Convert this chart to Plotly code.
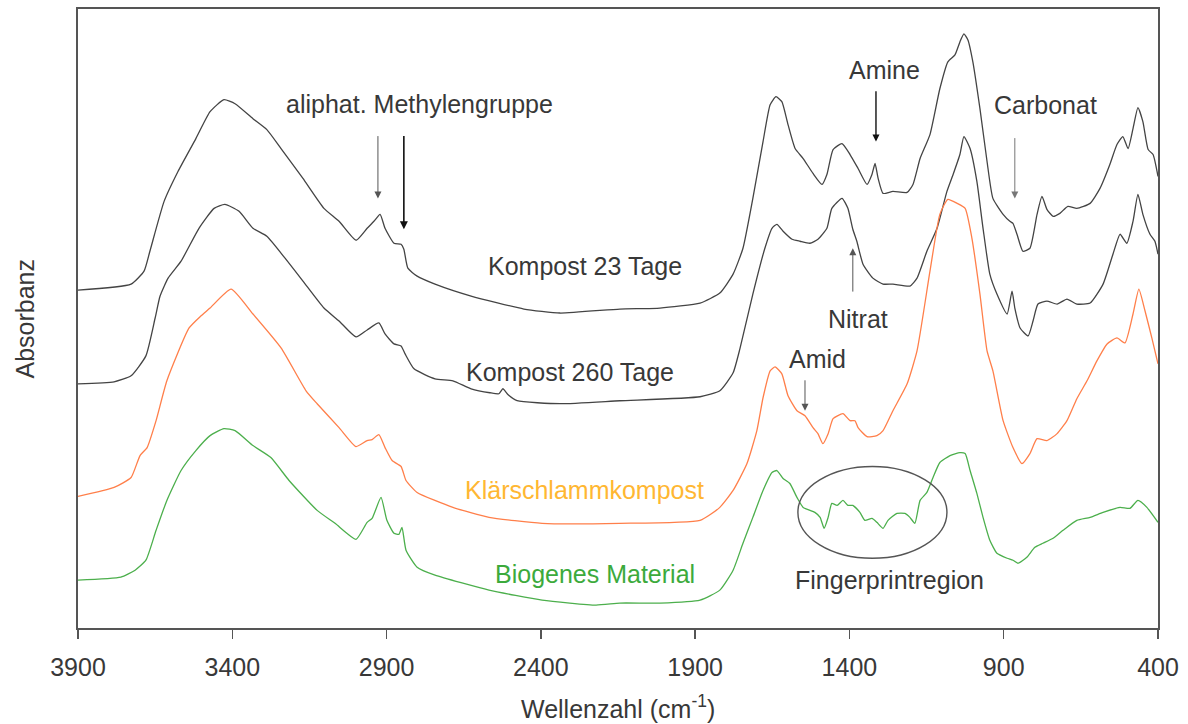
import plotly.graph_objects as go

# ---- data (wavenumber in cm^-1, absorbance in arbitrary offset units) ----
k23_wn = [3900, 3728, 3686, 3667, 3621, 3576, 3518, 3472, 3427, 3391, 3333, 3288, 3242, 3171, 3103, 3054,
          2999, 2963, 2941, 2921, 2905, 2876, 2853, 2844, 2831, 2801, 2743, 2626, 2455, 2338, 2144,
          2014, 1884, 1820, 1777, 1745, 1713, 1680, 1657, 1638, 1619, 1599, 1576, 1550, 1518, 1489,
          1473, 1453, 1424, 1398, 1372, 1343, 1327, 1317, 1307, 1291, 1259, 1213, 1194, 1171, 1139,
          1107, 1081, 1058, 1042, 1029, 1016, 1000, 977, 954, 935, 902, 880, 870, 857, 838, 815, 792,
          776, 760, 740, 718, 692, 663, 620, 588, 556, 533, 514, 497, 481, 465, 449, 432, 416, 400]
k23_ab = [3.39, 3.45, 3.58, 3.78, 4.28, 4.58, 4.91, 5.18, 5.30, 5.26, 5.11, 5.00, 4.81, 4.51, 4.21, 4.08,
          3.89, 4.01, 4.08, 4.15, 4.01, 3.86, 3.85, 3.80, 3.61, 3.53, 3.45, 3.33, 3.20, 3.16, 3.20,
          3.21, 3.26, 3.36, 3.55, 3.81, 4.31, 4.88, 5.25, 5.33, 5.28, 5.05, 4.81, 4.71, 4.56, 4.45,
          4.55, 4.80, 4.86, 4.75, 4.61, 4.45, 4.55, 4.66, 4.51, 4.36, 4.38, 4.37, 4.45, 4.71, 4.95,
          5.41, 5.68, 5.75, 5.88, 5.96, 5.90, 5.68, 5.21, 4.68, 4.31, 4.15, 4.08, 4.06, 3.95, 3.78,
          3.81, 4.15, 4.33, 4.20, 4.13, 4.16, 4.23, 4.21, 4.26, 4.41, 4.65, 4.85, 4.93, 4.81, 5.01,
          5.22, 5.08, 4.80, 4.75, 4.53]

k260_wn = [3900, 3783, 3728, 3680, 3650, 3634, 3608, 3566, 3508, 3459, 3424, 3378, 3333, 3288, 3229,
           3171, 3103, 3054, 2999, 2963, 2925, 2905, 2876, 2853, 2840, 2811, 2743, 2685, 2626, 2565,
           2536, 2523, 2506, 2477, 2338, 2144, 1884, 1820, 1777, 1755, 1713, 1674, 1651, 1635, 1615,
           1586, 1560, 1528, 1502, 1473, 1457, 1424, 1405, 1389, 1376, 1356, 1324, 1291, 1259, 1204,
           1181, 1149, 1116, 1084, 1064, 1042, 1029, 1009, 987, 967, 945, 922, 889, 873, 864, 847,
           821, 805, 789, 760, 727, 695, 663, 620, 578, 546, 523, 501, 481, 465, 449, 426, 410, 400]
k260_ab = [2.45, 2.47, 2.53, 2.73, 3.11, 3.33, 3.51, 3.68, 4.01, 4.21, 4.25, 4.18, 4.01, 3.93, 3.71,
           3.48, 3.21, 3.08, 2.92, 2.99, 3.06, 2.95, 2.85, 2.83, 2.75, 2.60, 2.50, 2.48, 2.40, 2.36,
           2.35, 2.40, 2.34, 2.28, 2.25, 2.28, 2.32, 2.38, 2.56, 2.80, 3.35, 3.81, 4.01, 4.05, 3.98,
           3.90, 3.88, 3.86, 3.90, 4.01, 4.21, 4.31, 4.21, 4.00, 3.88, 3.65, 3.51, 3.45, 3.45, 3.43,
           3.51, 3.78, 4.01, 4.38, 4.55, 4.75, 4.93, 4.81, 4.48, 4.01, 3.55, 3.35, 3.15, 3.38, 3.21,
           3.01, 2.93, 3.08, 3.25, 3.28, 3.25, 3.30, 3.25, 3.26, 3.45, 3.75, 3.95, 3.86, 4.08, 4.35,
           4.15, 3.95, 3.88, 3.75]

ksk_wn = [3900, 3783, 3728, 3699, 3676, 3647, 3612, 3540, 3502, 3472, 3404, 3333, 3242, 3161, 3125,
          3054, 2999, 2963, 2947, 2925, 2905, 2882, 2853, 2837, 2801, 2685, 2568, 2396, 2144, 1884,
          1820, 1777, 1732, 1700, 1680, 1657, 1641, 1619, 1599, 1570, 1544, 1518, 1502, 1486, 1469,
          1453, 1421, 1398, 1382, 1372, 1343, 1311, 1291, 1259, 1213, 1181, 1139, 1107, 1081, 1051,
          1025, 1003, 977, 954, 935, 902, 870, 841, 815, 792, 760, 727, 695, 663, 630, 598, 565, 533,
          507, 481, 462, 442, 420, 400]
ksk_ab = [1.32, 1.41, 1.51, 1.73, 1.81, 2.08, 2.48, 3.01, 3.13, 3.21, 3.40, 3.15, 2.81, 2.38, 2.25,
          2.01, 1.82, 1.88, 1.89, 1.94, 1.81, 1.68, 1.62, 1.48, 1.36, 1.21, 1.11, 1.05, 1.05, 1.08,
          1.21, 1.38, 1.65, 1.98, 2.31, 2.58, 2.62, 2.55, 2.33, 2.18, 2.13, 2.01, 1.95, 1.85, 1.95,
          2.10, 2.15, 2.08, 2.08, 2.01, 1.92, 1.93, 1.98, 2.18, 2.45, 2.78, 3.58, 4.15, 4.30, 4.26,
          4.21, 3.91, 3.35, 2.78, 2.58, 2.08, 1.81, 1.65, 1.75, 1.90, 1.88, 1.95, 2.08, 2.30, 2.48,
          2.68, 2.85, 2.91, 2.86, 3.15, 3.40, 3.18, 2.91, 2.65]

bio_wn = [3900, 3761, 3715, 3680, 3647, 3612, 3566, 3518, 3472, 3427, 3391, 3333, 3275, 3216, 3125,
          3067, 2999, 2963, 2947, 2918, 2899, 2876, 2860, 2850, 2837, 2801, 2743, 2568, 2396, 2221,
          2144, 2014, 1884, 1820, 1777, 1745, 1713, 1680, 1651, 1635, 1615, 1593, 1570, 1550, 1512,
          1495, 1482, 1469, 1457, 1440, 1421, 1405, 1389, 1366, 1350, 1327, 1311, 1291, 1275, 1246,
          1220, 1204, 1188, 1171, 1149, 1129, 1107, 1074, 1042, 1025, 1009, 987, 967, 945, 922, 889,
          870, 854, 825, 799, 773, 740, 708, 663, 620, 578, 523, 491, 465, 436, 400]
bio_ab = [0.48, 0.51, 0.58, 0.68, 0.98, 1.28, 1.58, 1.78, 1.93, 2.00, 1.98, 1.83, 1.71, 1.48, 1.18,
          1.05, 0.89, 1.06, 1.10, 1.31, 1.08, 0.95, 0.94, 1.01, 0.78, 0.61, 0.53, 0.38, 0.28, 0.23,
          0.25, 0.25, 0.28, 0.38, 0.58, 0.85, 1.11, 1.38, 1.56, 1.58, 1.50, 1.45, 1.31, 1.21, 1.16,
          1.11, 1.00, 1.11, 1.25, 1.23, 1.28, 1.23, 1.23, 1.16, 1.08, 1.10, 1.06, 1.00, 1.08, 1.15,
          1.15, 1.11, 1.05, 1.28, 1.36, 1.51, 1.66, 1.73, 1.76, 1.75, 1.58, 1.35, 1.11, 0.88, 0.75,
          0.70, 0.68, 0.65, 0.71, 0.81, 0.85, 0.90, 0.98, 1.08, 1.11, 1.16, 1.21, 1.20, 1.28, 1.21,
          1.06]

x_ticks = [3900, 3400, 2900, 2400, 1900, 1400, 900, 400]

# label texts and anchor positions (wavenumber, absorbance)
labels = [
    ("aliphat. Methylengruppe", 2792, 5.26, "#383838"),
    ("Amine", 1285, 5.60, "#383838"),
    ("Carbonat", 763, 5.25, "#383838"),
    ("Kompost 23 Tage", 2257, 3.63, "#383838"),
    ("Nitrat", 1372, 3.10, "#383838"),
    ("Kompost 260 Tage", 2306, 2.57, "#383838"),
    ("Amid", 1502, 2.70, "#383838"),
    ("Klärschlammkompost", 2257, 1.38, "#FFB732"),
    ("Biogenes Material", 2225, 0.54, "#3CAA3C"),
    ("Fingerprintregion", 1269, 0.48, "#383838"),
]

# arrows: (wavenumber, tail absorbance, tip absorbance, colour, width)
arrows = [
    (2928, 4.95, 4.31, "#555555", 1.0),
    (2844, 4.95, 4.00, "#111111", 1.6),
    (1314, 5.40, 4.88, "#111111", 1.4),
    (864, 4.93, 4.31, "#777777", 1.0),
    (1389, 3.36, 3.81, "#555555", 1.0),
    (1544, 2.50, 2.18, "#555555", 1.0),
]

# fingerprint ellipse bounds
ellipse_wn = [1567, 1084]
ellipse_ab = [0.70, 1.62]

FONT = "Liberation Sans, Arial, sans-serif"

fig = go.Figure()
series = [
    (k23_wn, k23_ab, "#444444", "Kompost 23 Tage"),
    (k260_wn, k260_ab, "#444444", "Kompost 260 Tage"),
    (ksk_wn, ksk_ab, "#FF7F4A", "Klärschlammkompost"),
    (bio_wn, bio_ab, "#4CAF4C", "Biogenes Material"),
]
for wn, ab, col, name in series:
    fig.add_trace(go.Scatter(x=wn, y=ab, mode="lines", name=name,
                             line=dict(color=col, width=1.3, shape="spline", smoothing=0.5),
                             showlegend=False, hoverinfo="skip"))

annots = []
for text, x, y, col in labels:
    annots.append(dict(x=x, y=y, xref="x", yref="y", text=text, showarrow=False,
                       font=dict(family=FONT, size=25, color=col)))
for x, y0, y1, col, w in arrows:
    annots.append(dict(x=x, y=y1, ax=x, ay=y0, xref="x", yref="y", axref="x", ayref="y",
                       text="", showarrow=True, arrowhead=2, arrowsize=1.0 if w > 1.2 else 1.4,
                       arrowwidth=w, arrowcolor=col, standoff=0, startstandoff=0))
annots.append(dict(x=0.5, y=0, xref="paper", yref="paper", yshift=-79, text="Wellenzahl (cm<sup>-1</sup>)",
                   showarrow=False, yanchor="middle",
                   font=dict(family=FONT, size=25, color="#383838")))
annots.append(dict(x=0, y=0.5, xref="paper", yref="paper", xshift=-54, text="Absorbanz",
                   showarrow=False, textangle=-90, xanchor="center", yanchor="middle",
                   font=dict(family=FONT, size=25, color="#383838")))

fig.add_shape(type="circle", xref="x", yref="y",
              x0=ellipse_wn[0], x1=ellipse_wn[1], y0=ellipse_ab[0], y1=ellipse_ab[1],
              line=dict(color="#555555", width=1.4))

fig.update_layout(
    width=1188, height=724,
    margin=dict(l=78, r=30, t=7, b=96),
    paper_bgcolor="white", plot_bgcolor="white",
    annotations=annots,
    font=dict(family=FONT, size=25, color="#383838"),
    xaxis=dict(range=[3900, 400], tickvals=x_ticks, ticktext=[str(t) for t in x_ticks],
               ticks="outside", ticklen=9, tickwidth=1.5, tickcolor="#555555",
               ticklabelstandoff=7,
               showline=True, linecolor="#555555", linewidth=1.6, mirror=True,
               showgrid=False, zeroline=False,
               tickfont=dict(family=FONT, size=25, color="#383838")),
    yaxis=dict(range=[0, 6.21], showticklabels=False, ticks="",
               showline=True, linecolor="#555555", linewidth=1.6, mirror=True,
               showgrid=False, zeroline=False),
)

fig.write_html("out.html", config={"displayModeBar": False, "staticPlot": True},
               post_script="document.body.style.margin='0px';document.body.style.overflow='hidden';")
